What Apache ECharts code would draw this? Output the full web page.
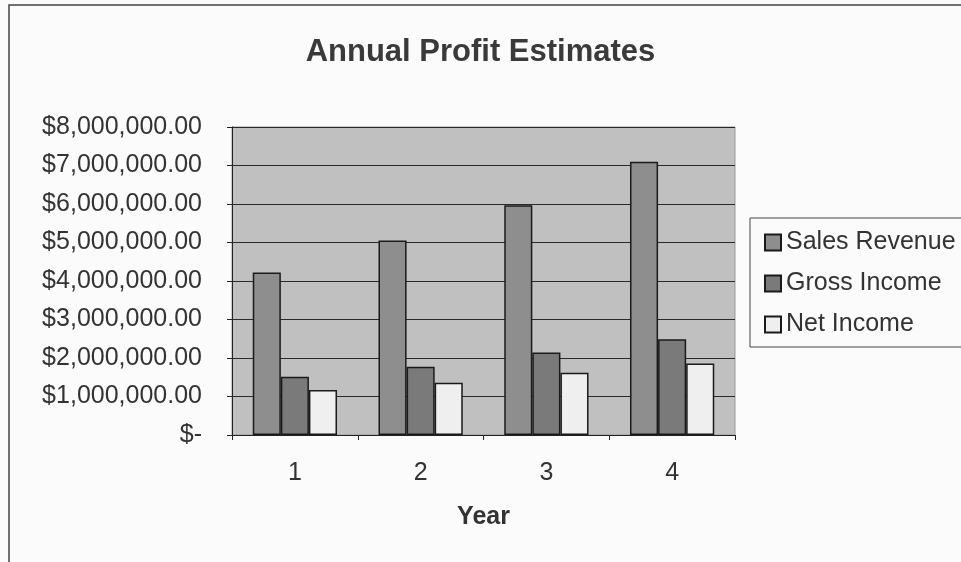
<!DOCTYPE html>
<html>
<head>
    <meta charset="utf-8">
    <title>Annual Profit Estimates</title>
    <script src="https://cdn.jsdelivr.net/npm/echarts@6/dist/echarts.min.js"></script>
    <style>
        html, body { margin: 0; padding: 0; background: #fbfbfb; }
        #chart { width: 961px; height: 562px; }
    </style>
</head>
<body>
<div id="chart"></div>
<script>
    // data
    var years = ['1', '2', '3', '4'];
    var salesRevenue = [4220000, 5050000, 5970000, 7100000];
    var grossIncome = [1510000, 1770000, 2140000, 2490000];
    var netIncome = [1170000, 1360000, 1620000, 1860000];

    var font = '"Liberation Sans", Arial, sans-serif';

    function money(v) {
        if (v === 0) return '$-';
        return '$' + v.toLocaleString('en-US', {minimumFractionDigits: 2, maximumFractionDigits: 2});
    }

    var chart = echarts.init(document.getElementById('chart'));

    var barBorder = {borderColor: '#1a1a1a', borderWidth: 1.5};

    var option = {
        backgroundColor: '#fbfbfb',
        animation: false,
        title: {
            text: 'Annual Profit Estimates',
            left: 'center',
            top: 32,
            textStyle: {fontFamily: font, fontSize: 31, fontWeight: 'bold', color: '#3a3a3a'}
        },
        graphic: [{
            type: 'rect',
            shape: {x: 9, y: 5, width: 980, height: 600},
            style: {fill: 'none', stroke: '#444', lineWidth: 1.5},
            silent: true
        }],
        legend: {
            orient: 'vertical',
            left: 750,
            top: 218,
            padding: [12, 60, 10, 14],
            itemGap: 16,
            itemWidth: 16,
            itemHeight: 16,
            icon: 'rect',
            borderColor: '#444',
            borderWidth: 1,
            backgroundColor: '#fbfbfb',
            textStyle: {fontFamily: font, fontSize: 25, color: '#333', lineHeight: 25},
            data: ['Sales Revenue', 'Gross Income', 'Net Income']
        },
        grid: {
            left: 232,
            top: 127,
            width: 503,
            height: 308,
            show: true,
            backgroundColor: '#c0c0c0',
            borderColor: '#999',
            borderWidth: 1
        },
        xAxis: {
            type: 'category',
            data: years,
            name: 'Year',
            nameLocation: 'middle',
            nameGap: 70,
            nameTextStyle: {fontFamily: font, fontSize: 25, fontWeight: 'bold', color: '#333'},
            axisLine: {lineStyle: {color: '#222', width: 1}},
            axisTick: {show: true, length: 5, lineStyle: {color: '#222'}},
            axisLabel: {fontFamily: font, fontSize: 25, color: '#333', margin: 26}
        },
        yAxis: {
            type: 'value',
            min: 0,
            max: 8000000,
            interval: 1000000,
            axisLine: {show: true, lineStyle: {color: '#222', width: 1}},
            axisTick: {show: true, length: 5, lineStyle: {color: '#222'}},
            axisLabel: {fontFamily: font, fontSize: 25, color: '#333', margin: 30, formatter: money},
            splitLine: {lineStyle: {color: '#2a2a2a', width: 1.2}}
        },
        series: [
            {
                name: 'Sales Revenue',
                type: 'bar',
                data: salesRevenue,
                barGap: '0%',
                barCategoryGap: '33%',
                itemStyle: Object.assign({color: '#8e8e8e'}, barBorder)
            },
            {
                name: 'Gross Income',
                type: 'bar',
                data: grossIncome,
                barGap: '0%',
                barCategoryGap: '33%',
                itemStyle: Object.assign({color: '#7a7a7a'}, barBorder)
            },
            {
                name: 'Net Income',
                type: 'bar',
                data: netIncome,
                barGap: '0%',
                barCategoryGap: '33%',
                itemStyle: Object.assign({color: '#efefef'}, barBorder)
            }
        ]
    };
    chart.setOption(option);
</script>
</body>
</html>
